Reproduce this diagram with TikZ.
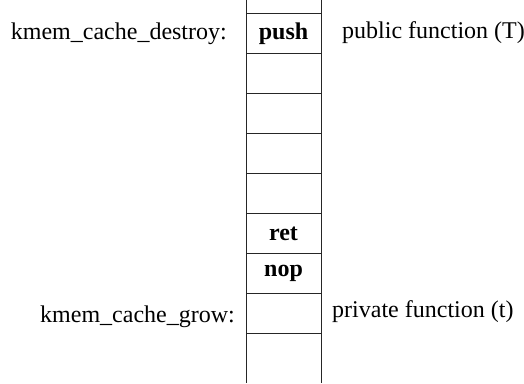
\documentclass[tikz,border=0pt]{standalone}
\usepackage{fontspec}
\setmainfont{Liberation Serif}
\begin{document}
\begin{tikzpicture}[x=1pt,y=-1pt,
  cell/.style={draw=black!85, line width=1pt, minimum width=75pt, minimum height=40pt,
    inner sep=0pt, outer sep=0pt, font=\fontsize{24}{28}\selectfont\bfseries},
  lbl/.style={inner sep=0pt, font=\fontsize{24}{28}\selectfont},
  rail/.style={draw=black!85, line width=1pt}]
\useasboundingbox (0,0) rectangle (524,383);
% stack of code cells
\node[cell] (c0) at (283.5,33.5) {push};
\node[cell] (c1) at (283.5,73.5) {};
\node[cell] (c2) at (283.5,113.5) {};
\node[cell] (c3) at (283.5,153.5) {};
\node[cell] (c4) at (283.5,193.5) {};
\node[cell] (c5) at (283.5,233.5) {ret};
\node[cell] (c6) at (283.5,273.5) {nop};
\node[cell] (c7) at (283.5,313.5) {};
% column rails continuing above and below
\coordinate (tl) at (246,0);
\coordinate (tr) at (321,0);
\coordinate (bl) at (246,383);
\coordinate (br) at (321,383);
\draw[rail] (tl) -- (c0.north west);
\draw[rail] (tr) -- (c0.north east);
\draw[rail] (c7.south west) -- (bl);
\draw[rail] (c7.south east) -- (br);
% labels
\node[lbl, anchor=base east] (l1) at (227,39) {kmem\_cache\_destroy:};
\node[lbl, anchor=base west] (r1) at (342,38.5) {public function (T)};
\node[lbl, anchor=base east] (l2) at (235,322.5) {kmem\_cache\_grow:};
\node[lbl, anchor=base west] (r2) at (332,317) {private function (t)};
\end{tikzpicture}
\end{document}
